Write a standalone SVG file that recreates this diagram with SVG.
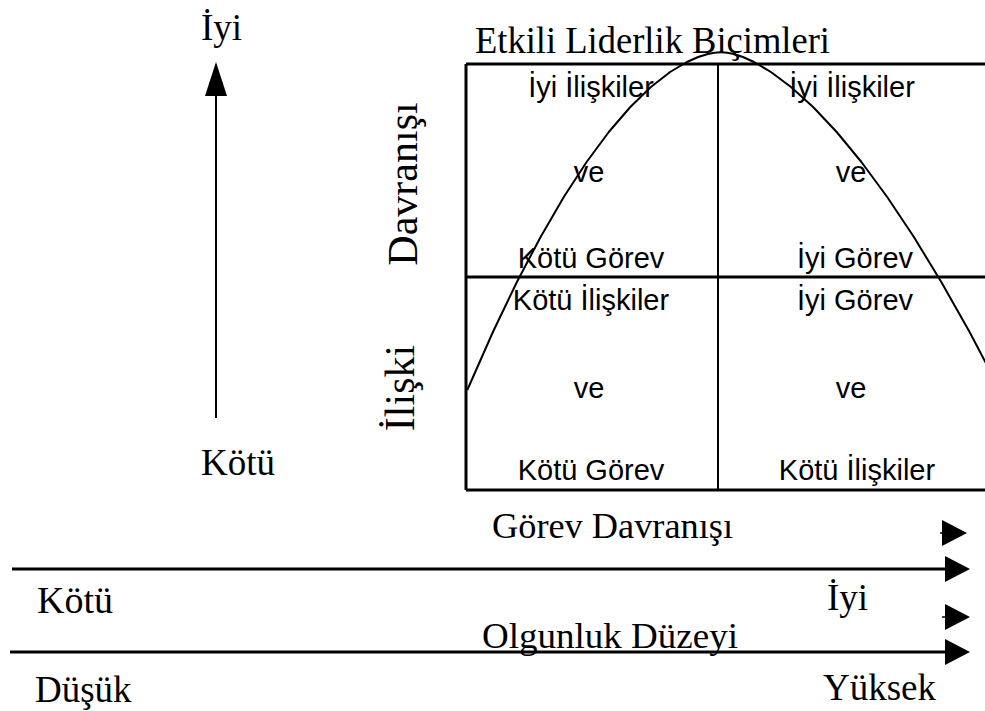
<svg xmlns="http://www.w3.org/2000/svg" width="985" height="711" viewBox="0 0 985 711">
  <style>
    .serif { font-family: "Liberation Serif", "Times New Roman", serif; fill: #000; }
    .sans { font-family: "Liberation Sans", Arial, sans-serif; fill: #000; font-size: 29px; text-anchor: middle; }
    .thick { stroke: #000; stroke-width: 3; fill: none; }
    .thin { stroke: #000; stroke-width: 2; fill: none; }
    .head { fill: #000; stroke: none; }
  </style>
  <rect width="985" height="711" fill="#fff"/>

  <!-- title -->
  <g id="title">
    <text class="serif" x="475" y="53" font-size="38" textLength="355" lengthAdjust="spacingAndGlyphs">Etkili Liderlik Biçimleri</text>
  </g>

  <!-- vertical quality scale -->
  <g id="scale-vertical">
    <text class="serif" x="201" y="40" font-size="37">İyi</text>
    <text class="serif" x="201" y="475" font-size="37">Kötü</text>
  </g>

  <!-- rotated axis labels -->
  <g id="axis-label-y">
    <text class="serif" font-size="42" text-anchor="middle" transform="translate(417 184) rotate(-90)">Davranışı</text>
    <text class="serif" font-size="42" text-anchor="middle" transform="translate(414 388) rotate(-90)">İlişki</text>
  </g>

  <!-- quadrant grid -->
  <g id="grid">
    <path class="thick" d="M466 64 H990 M466 277 H990 M466 490 H990 M466 64 V490"/>
    <line class="thin" x1="718" y1="64" x2="718" y2="490"/>
  </g>

  <g id="q-top-left">
    <text class="sans" x="591" y="97">İyi İlişkiler</text>
    <text class="sans" x="589" y="182">ve</text>
    <text class="sans" x="591" y="268">Kötü Görev</text>
  </g>
  <g id="q-top-right">
    <text class="sans" x="852" y="97">İyi İlişkiler</text>
    <text class="sans" x="851" y="182">ve</text>
    <text class="sans" x="855" y="268">İyi Görev</text>
  </g>
  <g id="q-bottom-left">
    <text class="sans" x="591" y="310">Kötü İlişkiler</text>
    <text class="sans" x="589" y="398">ve</text>
    <text class="sans" x="591" y="480">Kötü Görev</text>
  </g>
  <g id="q-bottom-right">
    <text class="sans" x="855" y="310">İyi Görev</text>
    <text class="sans" x="851" y="398">ve</text>
    <text class="sans" x="857" y="480">Kötü İlişkiler</text>
  </g>

  <!-- effectiveness curve -->
  <g id="curve">
    <path class="thin" stroke-linejoin="round" d="M467.3 390 L492.9 332 L516.9 282 L540.6 237 L563.8 197 L586.6 162 L608.8 132 L630.3 107 L650.9 87 L670.1 72 L686.9 62 L698.2 57 L707.8 54 Q721 50.5 733.9 54 L742.9 57 L754 62 L770.9 72 L791 87 L813.1 107 L836.7 132 L861.4 162 L887.2 197 L913.9 237 L941.3 282 L969.6 332 L995.8 382"/>
  </g>

  <!-- horizontal scale labels -->
  <g id="scale-horizontal">
    <text class="serif" x="492" y="538" font-size="36" textLength="241" lengthAdjust="spacingAndGlyphs">Görev Davranışı</text>
    <text class="serif" x="37" y="613" font-size="38">Kötü</text>
    <text class="serif" x="827" y="610" font-size="37">İyi</text>
    <text class="serif" x="482" y="648" font-size="36" textLength="256" lengthAdjust="spacingAndGlyphs">Olgunluk Düzeyi</text>
    <text class="serif" x="35" y="702" font-size="37">Düşük</text>
    <text class="serif" x="823" y="700" font-size="37">Yüksek</text>
  </g>

  <!-- connectors -->
  <g id="connectors">
    <line class="thin" x1="216" y1="418" x2="216" y2="88"/>
    <polygon class="head" points="216,62 205,96 227,96"/>
    <line class="thick" x1="12" y1="569" x2="948" y2="569"/>
    <polygon class="head" points="945,556 970,569 945,582"/>
    <line class="thick" x1="10" y1="652" x2="948" y2="652"/>
    <polygon class="head" points="945,639 970,652 945,665"/>
    <line stroke="#000" stroke-width="1.5" x1="940" y1="533" x2="943" y2="533"/>
    <polygon class="head" points="942,520 967,533 942,546"/>
    <line stroke="#000" stroke-width="1.5" x1="942" y1="617" x2="946" y2="617"/>
    <polygon class="head" points="945,604 970,617 945,630"/>
  </g>
</svg>
